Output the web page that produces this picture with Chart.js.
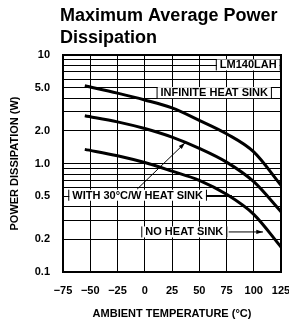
<!DOCTYPE html>
<html lang="en">
<head>
  <meta charset="UTF-8">
  <title>Maximum Average Power Dissipation</title>
  <script src="https://cdn.jsdelivr.net/npm/chart.js"></script>
  <style>
    html, body { margin: 0; padding: 0; background: #fff; }
    canvas { display: block; }
  </style>
</head>
<body>
  <canvas id="powerChart" width="289" height="326"></canvas>

  <script>
    // ambient temperature (°C) and power dissipation (W)
    const temps = [-55, -25, 0, 25, 50, 75, 100, 125];
    const infiniteSink = [5.2, 4.45, 3.85, 3.25, 2.5, 1.88, 1.28, 0.63];
    const withSink = [2.76, 2.42, 2.1, 1.75, 1.38, 1.03, 0.68, 0.36];
    const noSink = [1.35, 1.18, 1.02, 0.85, 0.7, 0.52, 0.34, 0.17];

    // labelled y ticks
    const yTickValues = [0.1, 0.2, 0.5, 1, 2, 5, 10];
    const yTickText = ['0.1', '0.2', '0.5', '1.0', '2.0', '5.0', '10'];

    const FONT = "'Liberation Sans', Arial, sans-serif";
    Chart.defaults.font.family = FONT;
    Chart.defaults.color = '#000';

    function series(values) {
      return {
        data: temps.map((t, i) => ({ x: t, y: values[i] })),
        borderColor: '#000',
        borderWidth: 3,
        pointRadius: 0,
        fill: false,
        cubicInterpolationMode: 'monotone'
      };
    }

    // title, frame and the curve labels
    const decorations = {
      id: 'decorations',
      beforeDraw(chart) {
        const ctx = chart.ctx;
        ctx.save();
        ctx.fillStyle = '#000';
        ctx.font = 'bold 18px ' + FONT;
        ctx.textBaseline = 'middle';
        ctx.fillText('Maximum Average Power', 60, 16);
        ctx.fillText('Dissipation', 60, 38);
        ctx.restore();
      },
      afterDatasetsDraw(chart) {
        const { ctx, chartArea: a, scales: { x, y } } = chart;
        ctx.save();
        ctx.font = 'bold 11px ' + FONT;
        ctx.textBaseline = 'middle';

        function boxLabel(text, t, w, anchor) {
          const tw = ctx.measureText(text).width;
          const cy = y.getPixelForValue(w);
          let left = x.getPixelForValue(t);
          if (anchor === 'right') left -= tw;
          ctx.fillStyle = '#fff';
          ctx.fillRect(left - 3, cy - 5.5, tw + 6, 11);
          ctx.strokeStyle = '#000';
          ctx.lineWidth = 1;
          ctx.beginPath();
          ctx.moveTo(left - 3.5, cy - 5.5); ctx.lineTo(left - 3.5, cy + 5.5);
          ctx.moveTo(left + tw + 3.5, cy - 5.5); ctx.lineTo(left + tw + 3.5, cy + 5.5);
          ctx.stroke();
          ctx.fillStyle = '#000';
          ctx.fillText(text, left, cy + 0.5);
          return left + tw;
        }

        function arrow(t0, w0, t1, w1) {
          const x0 = x.getPixelForValue(t0), y0 = y.getPixelForValue(w0);
          const x1 = x.getPixelForValue(t1), y1 = y.getPixelForValue(w1);
          const ang = Math.atan2(y1 - y0, x1 - x0);
          ctx.strokeStyle = '#000';
          ctx.lineWidth = 1;
          ctx.beginPath();
          ctx.moveTo(x0, y0); ctx.lineTo(x1, y1);
          ctx.stroke();
          ctx.beginPath();
          ctx.moveTo(x1, y1);
          ctx.lineTo(x1 - 7 * Math.cos(ang - 0.3), y1 - 7 * Math.sin(ang - 0.3));
          ctx.lineTo(x1 - 7 * Math.cos(ang + 0.3), y1 - 7 * Math.sin(ang + 0.3));
          ctx.closePath();
          ctx.fillStyle = '#000';
          ctx.fill();
        }

        boxLabel('LM140LAH', 121, 8.1, 'right');
        boxLabel('INFINITE HEAT SINK', 113, 4.5, 'right');
        const endWith = boxLabel('WITH 30\u00B0C/W HEAT SINK', -66.5, 0.51, 'left');
        ctx.strokeStyle = '#000';
        ctx.lineWidth = 1;
        ctx.beginPath();
        const yw = Math.round(y.getPixelForValue(0.51)) + 0.5;
        ctx.moveTo(endWith + 3, yw); ctx.lineTo(x.getPixelForValue(80), yw);
        ctx.stroke();
        arrow(-7, 0.58, 37, 1.55);
        boxLabel('NO HEAT SINK', 0.5, 0.234, 'left');
        arrow(77, 0.234, 108.5, 0.234);

        // heavy frame
        ctx.lineWidth = 2;
        ctx.strokeStyle = '#000';
        ctx.strokeRect(a.left, a.top, a.right - a.left, a.bottom - a.top);
        ctx.restore();
      }
    };

    new Chart(document.getElementById('powerChart'), {
      type: 'line',
      data: {
        datasets: [series(infiniteSink), series(withSink), series(noSink)]
      },
      options: {
        responsive: false,
        animation: false,
        devicePixelRatio: 1,
        layout: { padding: { top: 55, left: 0, right: 8, bottom: 5 } },
        plugins: {
          legend: { display: false },
          tooltip: { enabled: false }
        },
        scales: {
          x: {
            type: 'linear',
            min: -75,
            max: 125,
            afterFit: (s) => { s.height = 49; s.paddingLeft = 0; s.paddingRight = 0; },
            grid: { color: '#000', lineWidth: 1, drawTicks: false },
            border: { color: '#000', width: 2 },
            ticks: {
              stepSize: 25,
              padding: 12,
              font: { size: 11, weight: 'bold' },
              callback: (v) => (v < 0 ? '\u2212' + Math.abs(v) : String(v))
            },
            title: {
              display: true,
              text: 'AMBIENT TEMPERATURE (\u00B0C)',
              font: { size: 11, weight: 'bold' },
              padding: { top: 10, bottom: 0 }
            }
          },
          y: {
            type: 'logarithmic',
            min: 0.1,
            max: 10,
            afterFit: (s) => { s.width = 63; s.paddingTop = 0; s.paddingBottom = 0; },
            afterBuildTicks: (s) => {
              const ticks = [];
              [0.1, 1].forEach((p) => {
                for (let m = 1; m < 10; m++) ticks.push({ value: +(m * p).toFixed(2) });
              });
              ticks.push({ value: 10 });
              s.ticks = ticks;
            },
            grid: { color: '#000', lineWidth: 1, drawTicks: false },
            border: { color: '#000', width: 2 },
            ticks: {
              padding: 13,
              autoSkip: false,
              font: { size: 11, weight: 'bold' },
              callback: (v) => {
                const i = yTickValues.findIndex((t) => Math.abs(t - v) < 1e-9);
                return i >= 0 ? yTickText[i] : '';
              }
            },
            title: {
              display: true,
              text: 'POWER DISSIPATION (W)',
              font: { size: 11, weight: 'bold' },
              padding: { top: 8, bottom: 0 }
            }
          }
        }
      },
      plugins: [decorations]
    });
  </script>
</body>
</html>
